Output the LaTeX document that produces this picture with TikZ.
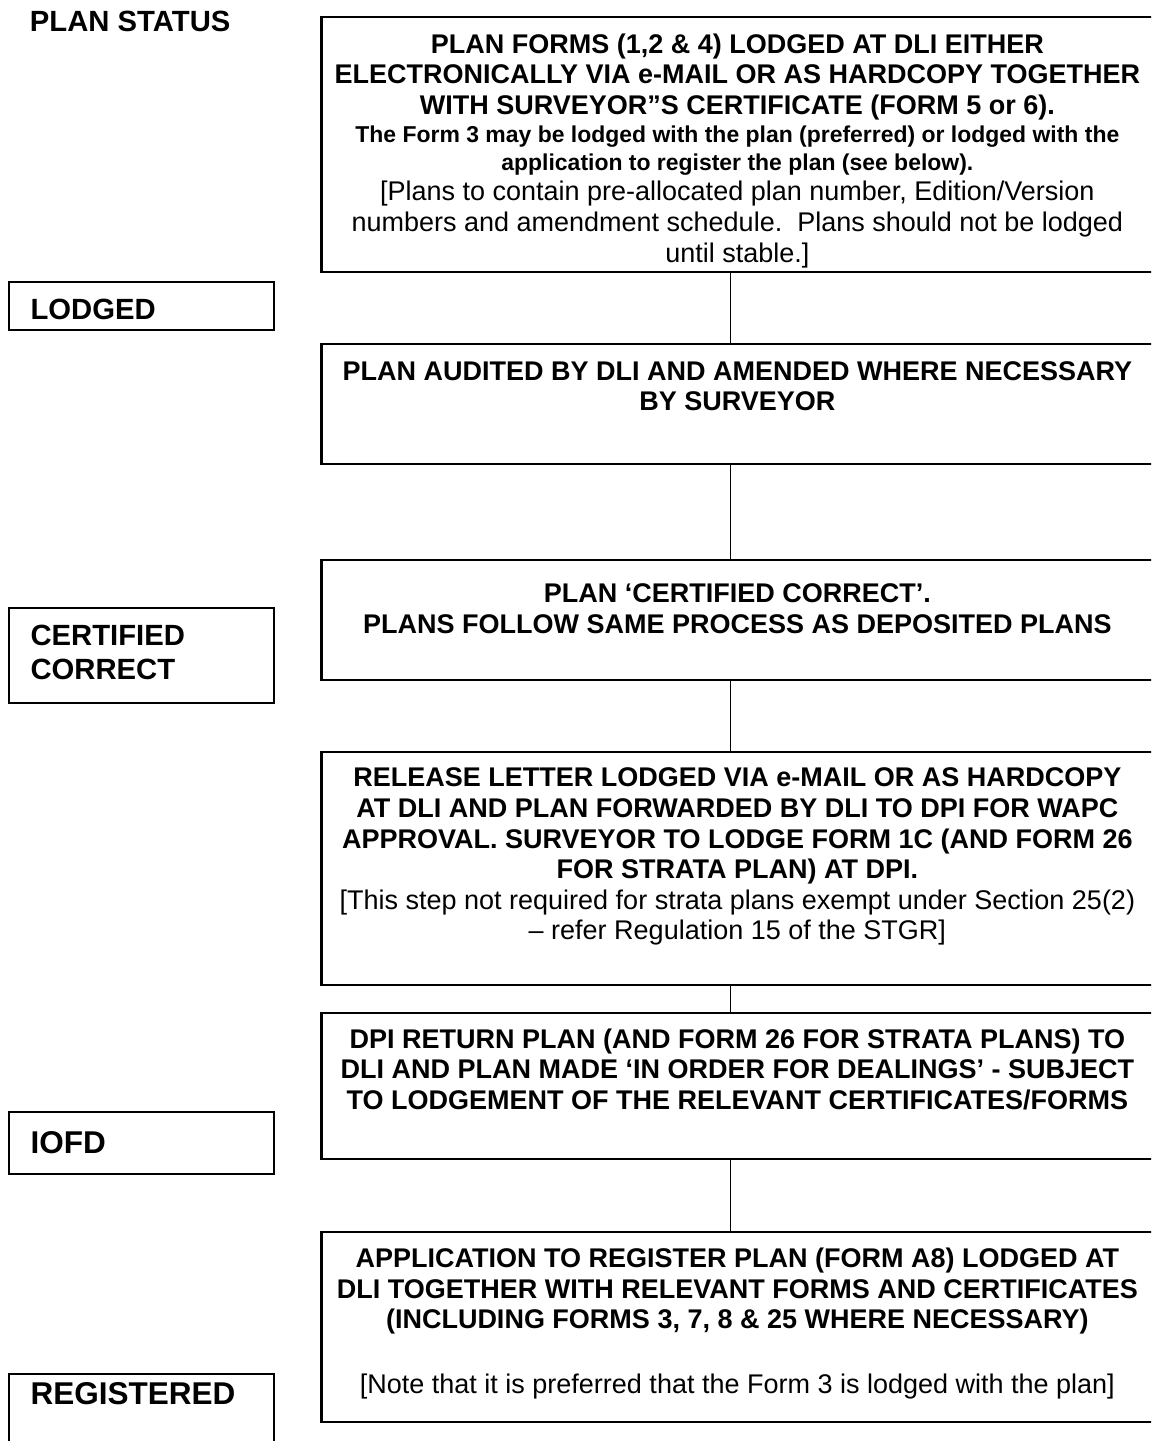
\documentclass[tikz,border=0pt]{standalone}
\usepackage{fontspec}
\setmainfont{Liberation Sans}
\tikzset{
    step box/.style={draw, line width=0.9pt, anchor=north west, outer sep=0pt, inner xsep=0pt, inner ysep=0pt, text width=367pt, minimum width=369.6pt, align=flush center}, % 右侧流程框
    status box/.style={draw, line width=0.9pt, anchor=north west, outer sep=0pt, inner xsep=9.6pt, inner ysep=0pt, text width=98.6pt, align=flush left, font=\bfseries\fontsize{13}{15.2}\selectfont}, % 左侧状态框
    big status/.style={font=\bfseries\fontsize{14}{16}\selectfont}, % 大号状态文字
    link/.style={line width=0.7pt} % 框之间的连线
}
\begin{document}
\begin{tikzpicture}[x=0.4444pt, y=-0.4444pt, font=\bfseries\fontsize{12}{13.6}\selectfont]
    \useasboundingbox (0,0) rectangle (1151,1441);
    \clip (0,0) rectangle (1151,1441);
    \def\boxl{321.5} \def\statl{9}

    \node[anchor=base west, font=\bfseries\fontsize{13}{15}\selectfont] (title) at (22,31.7) {PLAN STATUS};

    \node[step box, text height=16pt, text depth=97.3pt] (b1) at (\boxl,17.3) {%
        PLAN FORMS (1,2 \& 4) LODGED AT DLI EITHER\\
        ELECTRONICALLY VIA e-MAIL OR AS HARDCOPY TOGETHER\\
        WITH SURVEYOR”S CERTIFICATE (FORM 5 or 6).\par
        {\fontsize{10.2}{12.4}\selectfont The Form 3 may be lodged with the plan (preferred) or lodged with the\\
        application to register the plan (see below).\par}
        \mdseries [Plans to contain pre-allocated plan number, Edition/Version\\
        numbers and amendment schedule.\ \ Plans should not be lodged\\
        until stable.]};
    \node[step box, text height=16pt, text depth=37.2pt] (b2) at (\boxl,344.3) {%
        PLAN AUDITED BY DLI AND AMENDED WHERE NECESSARY\\
        BY SURVEYOR};
    \node[step box, text height=19.1pt, text depth=34.2pt] (b3) at (\boxl,560) {%
        PLAN ‘CERTIFIED CORRECT’.\\
        PLANS FOLLOW SAME PROCESS AS DEPOSITED PLANS};
    \node[step box, text height=15.6pt, text depth=88.1pt] (b4) at (\boxl,751.7) {%
        RELEASE LETTER LODGED VIA e-MAIL OR AS HARDCOPY\\
        AT DLI AND PLAN FORWARDED BY DLI TO DPI FOR WAPC\\
        APPROVAL. SURVEYOR TO LODGE FORM 1C (AND FORM 26\\
        FOR STRATA PLAN) AT DPI.\par
        \mdseries [This step not required for strata plans exempt under Section 25(2)\\
        – refer Regulation 15 of the STGR]};
    \node[step box, text height=15.8pt, text depth=49.4pt] (b5) at (\boxl,1012.7) {%
        DPI RETURN PLAN (AND FORM 26 FOR STRATA PLANS) TO\\
        DLI AND PLAN MADE ‘IN ORDER FOR DEALINGS’ - SUBJECT\\
        TO LODGEMENT OF THE RELEVANT CERTIFICATES/FORMS};
    \node[step box, text height=16pt, text depth=68.4pt] (b6) at (\boxl,1231.7) {%
        APPLICATION TO REGISTER PLAN (FORM A8) LODGED AT\\
        DLI TOGETHER WITH RELEVANT FORMS AND CERTIFICATES\\
        (INCLUDING FORMS 3, 7, 8 \& 25 WHERE NECESSARY)\par
        \vspace{15pt}
        \mdseries [Note that it is preferred that the Form 3 is lodged with the plan]};

    \foreach \p/\q in {b1/b2, b2/b3, b3/b4, b4/b5, b5/b6} {\draw[link] ([xshift=-3pt]\p.south) -- ([xshift=-3pt]\q.north);}

    \node[status box, text height=17pt, text depth=4.5pt] (lodged) at (\statl,281.7) {LODGED};
    \node[status box, text height=16.9pt, text depth=25.6pt] (certified) at (\statl,607.7) {CERTIFIED\\CORRECT};
    \node[status box, big status, text height=18.2pt, text depth=9.2pt] (iofd) at (\statl,1112.3) {IOFD};
    \node[status box, big status, text height=13.6pt, text depth=31pt] (registered) at (\statl,1374.3) {REGISTERED};
\end{tikzpicture}
\end{document}
